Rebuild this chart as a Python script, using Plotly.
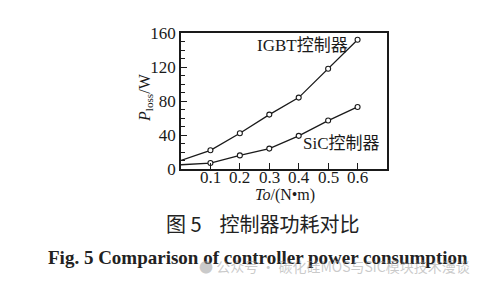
import plotly.graph_objects as go

torque = [0.0, 0.1, 0.2, 0.3, 0.4, 0.5, 0.6]
igbt_loss = [10, 22, 42, 64, 84, 118, 152]
sic_loss = [5, 7, 16, 24, 39, 57, 73]
x_ticks = [0.1, 0.2, 0.3, 0.4, 0.5, 0.6]
y_ticks = [0, 40, 80, 120, 160]

W, H = 494, 284
L, R, T, B = 181, 387, 33, 169
pw, ph = R - L, B - T

def px(x):
    return (x - L) / pw

def py(y):
    return (B - y) / ph

SERIF = "Liberation Serif"
CJK = "Noto Sans CJK SC"
INK = "#1a1a1a"

fig = go.Figure()
for ys in (igbt_loss, sic_loss):
    fig.add_trace(go.Scatter(
        x=torque, y=ys, mode="lines",
        line=dict(color=INK, width=1.3),
        showlegend=False))
    fig.add_trace(go.Scatter(
        x=torque[1:], y=ys[1:], mode="markers",
        marker=dict(symbol="circle", size=5, color="white", line=dict(width=1.1, color=INK)),
        showlegend=False, hoverinfo="skip"))

# x tick labels placed via the x axis scale, tight to the axis as in the reference
for v in x_ticks:
    fig.add_annotation(xref="x", yref="paper", x=v, y=py(166), text=f"{v:.1f}",
                       showarrow=False, xanchor="center", yanchor="top",
                       font=dict(family=SERIF, size=17, color=INK))

annots = [
    dict(text="IGBT控制器", x=px(302), y=py(45), font=dict(family=SERIF + ", " + CJK, size=17, color=INK)),
    dict(text="SiC控制器", x=px(341), y=py(143), font=dict(family=SERIF + ", " + CJK, size=17, color=INK)),
    dict(text="<i>P</i><sub>loss</sub>/W", x=px(145), y=py(98), textangle=-90,
         font=dict(family=SERIF, size=16, color=INK)),
    dict(text="<i>To</i>/(N•m)", x=px(285), y=py(195), font=dict(family=SERIF, size=16, color=INK)),
    dict(text="图 5    控制器功耗对比", x=px(263), y=py(223), font=dict(family=CJK, size=20, color="#222")),
    dict(text="<b>Fig. 5 Comparison of controller power consumption</b>", x=px(258), y=py(257),
         font=dict(family=SERIF, size=19, color="#222")),
    dict(text="● 公众号 · 碳化硅MOS与SiC模块技术漫谈", x=px(334), y=py(266),
         font=dict(family=CJK, size=14, color="rgba(150,150,150,0.5)")),
]
for a in annots:
    fig.add_annotation(xref="paper", yref="paper", showarrow=False,
                       xanchor="center", yanchor="middle", **a)

fig.update_xaxes(range=[0, 0.7], tickvals=x_ticks, showticklabels=False,
                 ticks="inside", ticklen=6, tickwidth=1.2, tickcolor=INK,
                 showline=True, linecolor=INK, linewidth=1.6, mirror=True,
                 showgrid=False, zeroline=False)
fig.update_yaxes(range=[0, 160], tickvals=y_ticks,
                 ticks="inside", ticklen=6, tickwidth=1.2, tickcolor=INK,
                 minor=dict(dtick=10, ticks="inside", ticklen=4, tickcolor=INK, tickwidth=1.2),
                 showline=True, linecolor=INK, linewidth=1.6, mirror=True,
                 showgrid=False, zeroline=False,
                 tickfont=dict(family=SERIF, size=17, color=INK))
fig.update_layout(width=W, height=H, margin=dict(l=L, r=W - R, t=T, b=H - B),
                  plot_bgcolor="white", paper_bgcolor="white")
fig.write_html("out.html")
